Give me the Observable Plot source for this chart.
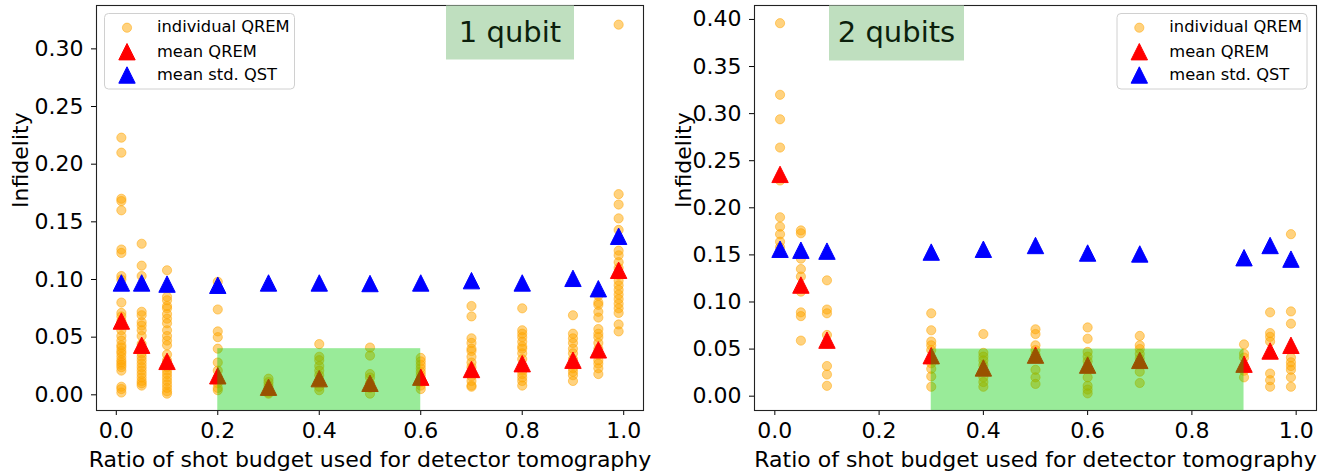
<!DOCTYPE html>
<html><head><meta charset="utf-8">
<script src="https://cdn.jsdelivr.net/npm/d3@7"></script>
<script src="https://cdn.jsdelivr.net/npm/@observablehq/plot@0.6"></script>
<style>
html,body{margin:0;padding:0;background:#fff;}
#wrap{position:relative;width:1331px;height:472px;display:flex;flex-direction:row;}
#overlay{position:absolute;left:0;top:0;pointer-events:none;}
</style></head>
<body><div id="wrap"></div>
<script>
// ---------- data ----------
const ratios1 = [0.01, 0.05, 0.1, 0.2, 0.3, 0.4, 0.5, 0.6, 0.7, 0.8, 0.9, 0.95, 0.99];
const individual1 = [
  [0.223, 0.210, 0.170, 0.168, 0.160, 0.126, 0.123, 0.103, 0.100, 0.080, 0.071, 0.068, 0.064, 0.060, 0.056, 0.051, 0.047, 0.043, 0.041, 0.038, 0.036, 0.033, 0.030, 0.028, 0.026, 0.024, 0.021, 0.007, 0.005, 0.002],
  [0.131, 0.112, 0.103, 0.072, 0.069, 0.063, 0.060, 0.056, 0.051, 0.044, 0.040, 0.036, 0.033, 0.030, 0.027, 0.024, 0.021, 0.018, 0.015, 0.012, 0.010, 0.008],
  [0.108, 0.085, 0.082, 0.077, 0.075, 0.070, 0.066, 0.062, 0.056, 0.051, 0.047, 0.043, 0.035, 0.030, 0.027, 0.024, 0.021, 0.018, 0.015, 0.012, 0.009, 0.006, 0.003, 0.001],
  [0.098, 0.074, 0.055, 0.050, 0.040, 0.028, 0.021, 0.015, 0.010, 0.006, 0.004],
  [0.014, 0.011, 0.008, 0.005, 0.002, 0.001],
  [0.044, 0.033, 0.030, 0.025, 0.021, 0.017, 0.012, 0.007, 0.004],
  [0.041, 0.034, 0.018, 0.015, 0.010, 0.006, 0.001],
  [0.032, 0.029, 0.026, 0.023, 0.020, 0.017, 0.014, 0.011, 0.008, 0.005],
  [0.077, 0.068, 0.049, 0.045, 0.040, 0.038, 0.033, 0.028, 0.024, 0.019, 0.016, 0.012, 0.008, 0.007],
  [0.075, 0.056, 0.053, 0.050, 0.046, 0.042, 0.040, 0.036, 0.031, 0.025, 0.021, 0.018, 0.015, 0.012, 0.008],
  [0.069, 0.053, 0.049, 0.045, 0.040, 0.036, 0.031, 0.026, 0.023, 0.020, 0.017, 0.012],
  [0.086, 0.080, 0.078, 0.072, 0.067, 0.057, 0.053, 0.050, 0.045, 0.040, 0.035, 0.030, 0.027, 0.023, 0.018],
  [0.321, 0.174, 0.165, 0.153, 0.143, 0.125, 0.121, 0.115, 0.110, 0.104, 0.099, 0.095, 0.091, 0.087, 0.083, 0.079, 0.075, 0.071, 0.061, 0.055]
];
const meanQREM1 = [0.064, 0.043, 0.029, 0.0165, 0.0066, 0.014, 0.010, 0.0153, 0.022, 0.027, 0.030, 0.039, 0.108];
const meanQST1  = [0.097, 0.097, 0.096, 0.095, 0.097, 0.097, 0.0965, 0.097, 0.099, 0.097, 0.101, 0.092, 0.1375];

const ratios2 = [0.01, 0.05, 0.1, 0.3, 0.4, 0.5, 0.6, 0.7, 0.9, 0.95, 0.99];
const individual2 = [
  [0.396, 0.320, 0.294, 0.264, 0.229, 0.190, 0.180, 0.172, 0.164, 0.158],
  [0.176, 0.173, 0.146, 0.135, 0.127, 0.111, 0.089, 0.085, 0.059],
  [0.123, 0.092, 0.088, 0.065, 0.056, 0.032, 0.023, 0.011],
  [0.088, 0.070, 0.058, 0.054, 0.049, 0.040, 0.035, 0.029, 0.021, 0.010],
  [0.066, 0.046, 0.042, 0.038, 0.033, 0.020, 0.015, 0.010],
  [0.071, 0.066, 0.054, 0.049, 0.044, 0.028, 0.020, 0.013],
  [0.073, 0.061, 0.047, 0.042, 0.037, 0.020, 0.011, 0.007, 0.003],
  [0.064, 0.054, 0.050, 0.045, 0.040, 0.026, 0.014],
  [0.055, 0.045, 0.041, 0.031, 0.027, 0.020],
  [0.089, 0.067, 0.063, 0.058, 0.024, 0.017, 0.010],
  [0.172, 0.090, 0.077, 0.041, 0.036, 0.032, 0.028, 0.020, 0.010]
];
const meanQREM2 = [0.2355, 0.118, 0.0595, 0.043, 0.030, 0.0436, 0.033, 0.038, 0.034, 0.048, 0.054];
const meanQST2  = [0.156, 0.155, 0.154, 0.153, 0.156, 0.160, 0.152, 0.151, 0.147, 0.160, 0.1455];

// shaded "good" region: [x start, x end, top]
const shade1 = [0.2, 0.6, 0.04];
const shade2 = [0.3, 0.9, 0.05];

const xTicks = [0, 0.2, 0.4, 0.6, 0.8, 1.0];
const yTicks1 = [0, 0.05, 0.10, 0.15, 0.20, 0.25, 0.30];
const yTicks2 = [0, 0.05, 0.10, 0.15, 0.20, 0.25, 0.30, 0.35, 0.40];
const panelTitles = ["1 qubit", "2 qubits"];
const legendLabels = ["individual QREM", "mean QREM", "mean std. QST"];
const xLabel = "Ratio of shot budget used for detector tomography";
const yLabel = "Infidelity";

// ---------- drawing ----------
const mplTriangle = {
  draw(ctx, size) {
    const h = Math.sqrt(size / Math.PI);
    ctx.moveTo(0, -h); ctx.lineTo(h, h); ctx.lineTo(-h, h); ctx.closePath();
  }
};

function panel(o) {
  const indiv = o.ratios.flatMap((x, i) => o.individual[i].map(y => ({x, y})));
  const means = o.ratios.map((x, i) => ({x, q: o.meanQ[i], s: o.meanS[i]}));
  const shade = [{x1: o.shade[0], x2: o.shade[1], y2: o.shade[2]}];
  return Plot.plot({
    width: o.width, height: 472,
    marginLeft: o.marginLeft, marginRight: o.marginRight, marginTop: 5, marginBottom: 62,
    style: {fontFamily: "'DejaVu Sans', sans-serif", fontSize: "22px", color: "black", background: "white", overflow: "visible"},
    x: {domain: [-0.039, 1.039], label: null},
    y: {domain: o.yDomain, label: null},
    marks: [
      Plot.dot(indiv, {x: "x", y: "y", r: 4.6, fill: "orange", fillOpacity: 0.5, stroke: "orange", strokeOpacity: 0.5, strokeWidth: 1, clip: true}),
      Plot.dot(means, {x: "x", y: "q", r: 8.2, symbol: mplTriangle, fill: "red", stroke: "red", strokeWidth: 1}),
      Plot.dot(means, {x: "x", y: "s", r: 8.2, symbol: mplTriangle, fill: "blue", stroke: "blue", strokeWidth: 1}),
      Plot.rect(shade, {x1: "x1", x2: "x2", y1: () => o.yDomain[0], y2: "y2", fill: "rgb(0,205,0)", fillOpacity: 0.4, clip: true}),
      Plot.axisX({ticks: xTicks, tickFormat: d3.format(".1f"), tickSize: 5, tickPadding: 6.5, label: null}),
      Plot.axisY({ticks: o.yTicks, tickFormat: d3.format(".2f"), tickSize: 5, tickPadding: 8, label: null}),
      Plot.frame({stroke: "#222", strokeWidth: 1.1}),
      Plot.text([xLabel], {text: d => d, frameAnchor: "bottom", dy: 56, fontSize: 22, fill: "black"}),
      Plot.text([yLabel], {text: d => d, frameAnchor: "left", dx: o.ylabelDx, rotate: -90, fontSize: 22, fill: "black"})
    ]
  });
}

const wrap = document.getElementById("wrap");
wrap.appendChild(panel({width: 665, marginLeft: 96, marginRight: 22, ratios: ratios1, individual: individual1,
  meanQ: meanQREM1, meanS: meanQST1, shade: shade1, yDomain: [-0.0136, 0.3376], yTicks: yTicks1, ylabelDx: -76}));
wrap.appendChild(panel({width: 666, marginLeft: 89, marginRight: 15, ratios: ratios2, individual: individual2,
  meanQ: meanQREM2, meanS: meanQST2, shade: shade2, yDomain: [-0.0152, 0.4148], yTicks: yTicks2, ylabelDx: -71}));

// ---------- annotations: title tags and legends ----------
const NS = "http://www.w3.org/2000/svg";
const ov = document.createElementNS(NS, "svg");
ov.setAttribute("id", "overlay");
ov.setAttribute("width", 1331); ov.setAttribute("height", 472);
ov.style.fontFamily = "'DejaVu Sans', sans-serif";
wrap.appendChild(ov);
function el(tag, attrs, text) {
  const e = document.createElementNS(NS, tag);
  for (const k in attrs) e.setAttribute(k, attrs[k]);
  if (text != null) e.textContent = text;
  ov.appendChild(e);
  return e;
}
const tags = [{x: 446, w: 128, h: 54}, {x: 829, w: 135, h: 55}];
tags.forEach((t, i) => {
  el("rect", {x: t.x, y: 5.5, width: t.w, height: t.h, fill: "rgb(191,223,191)"});
  el("text", {x: t.x + t.w / 2, y: 41.5, "text-anchor": "middle", "font-size": 29, fill: "#0c1f0c"}, panelTitles[i]);
});
const legends = [{x: 104.5, mx: 127, tx: 157}, {x: 1117, mx: 1139.3, tx: 1169.3}];
const tri = (cx, cy, h) => `M${cx},${cy - h}L${cx + h},${cy + h}L${cx - h},${cy + h}Z`;
legends.forEach(L => {
  el("rect", {x: L.x, y: 13.5, width: 190, height: 75.5, rx: 4, fill: "white", "fill-opacity": 0.8, stroke: "#d0d0d0", "stroke-width": 1});
  el("circle", {cx: L.mx, cy: 27.7, r: 4.6, fill: "orange", "fill-opacity": 0.5, stroke: "orange", "stroke-opacity": 0.5});
  el("path", {d: tri(L.mx, 51.7, 8.2), fill: "red", stroke: "red"});
  el("path", {d: tri(L.mx, 75, 8.2), fill: "blue", stroke: "blue"});
  [32.3, 56.5, 80].forEach((by, j) => el("text", {x: L.tx, y: by, "font-size": 16.3, fill: "black"}, legendLabels[j]));
});
</script></body></html>
